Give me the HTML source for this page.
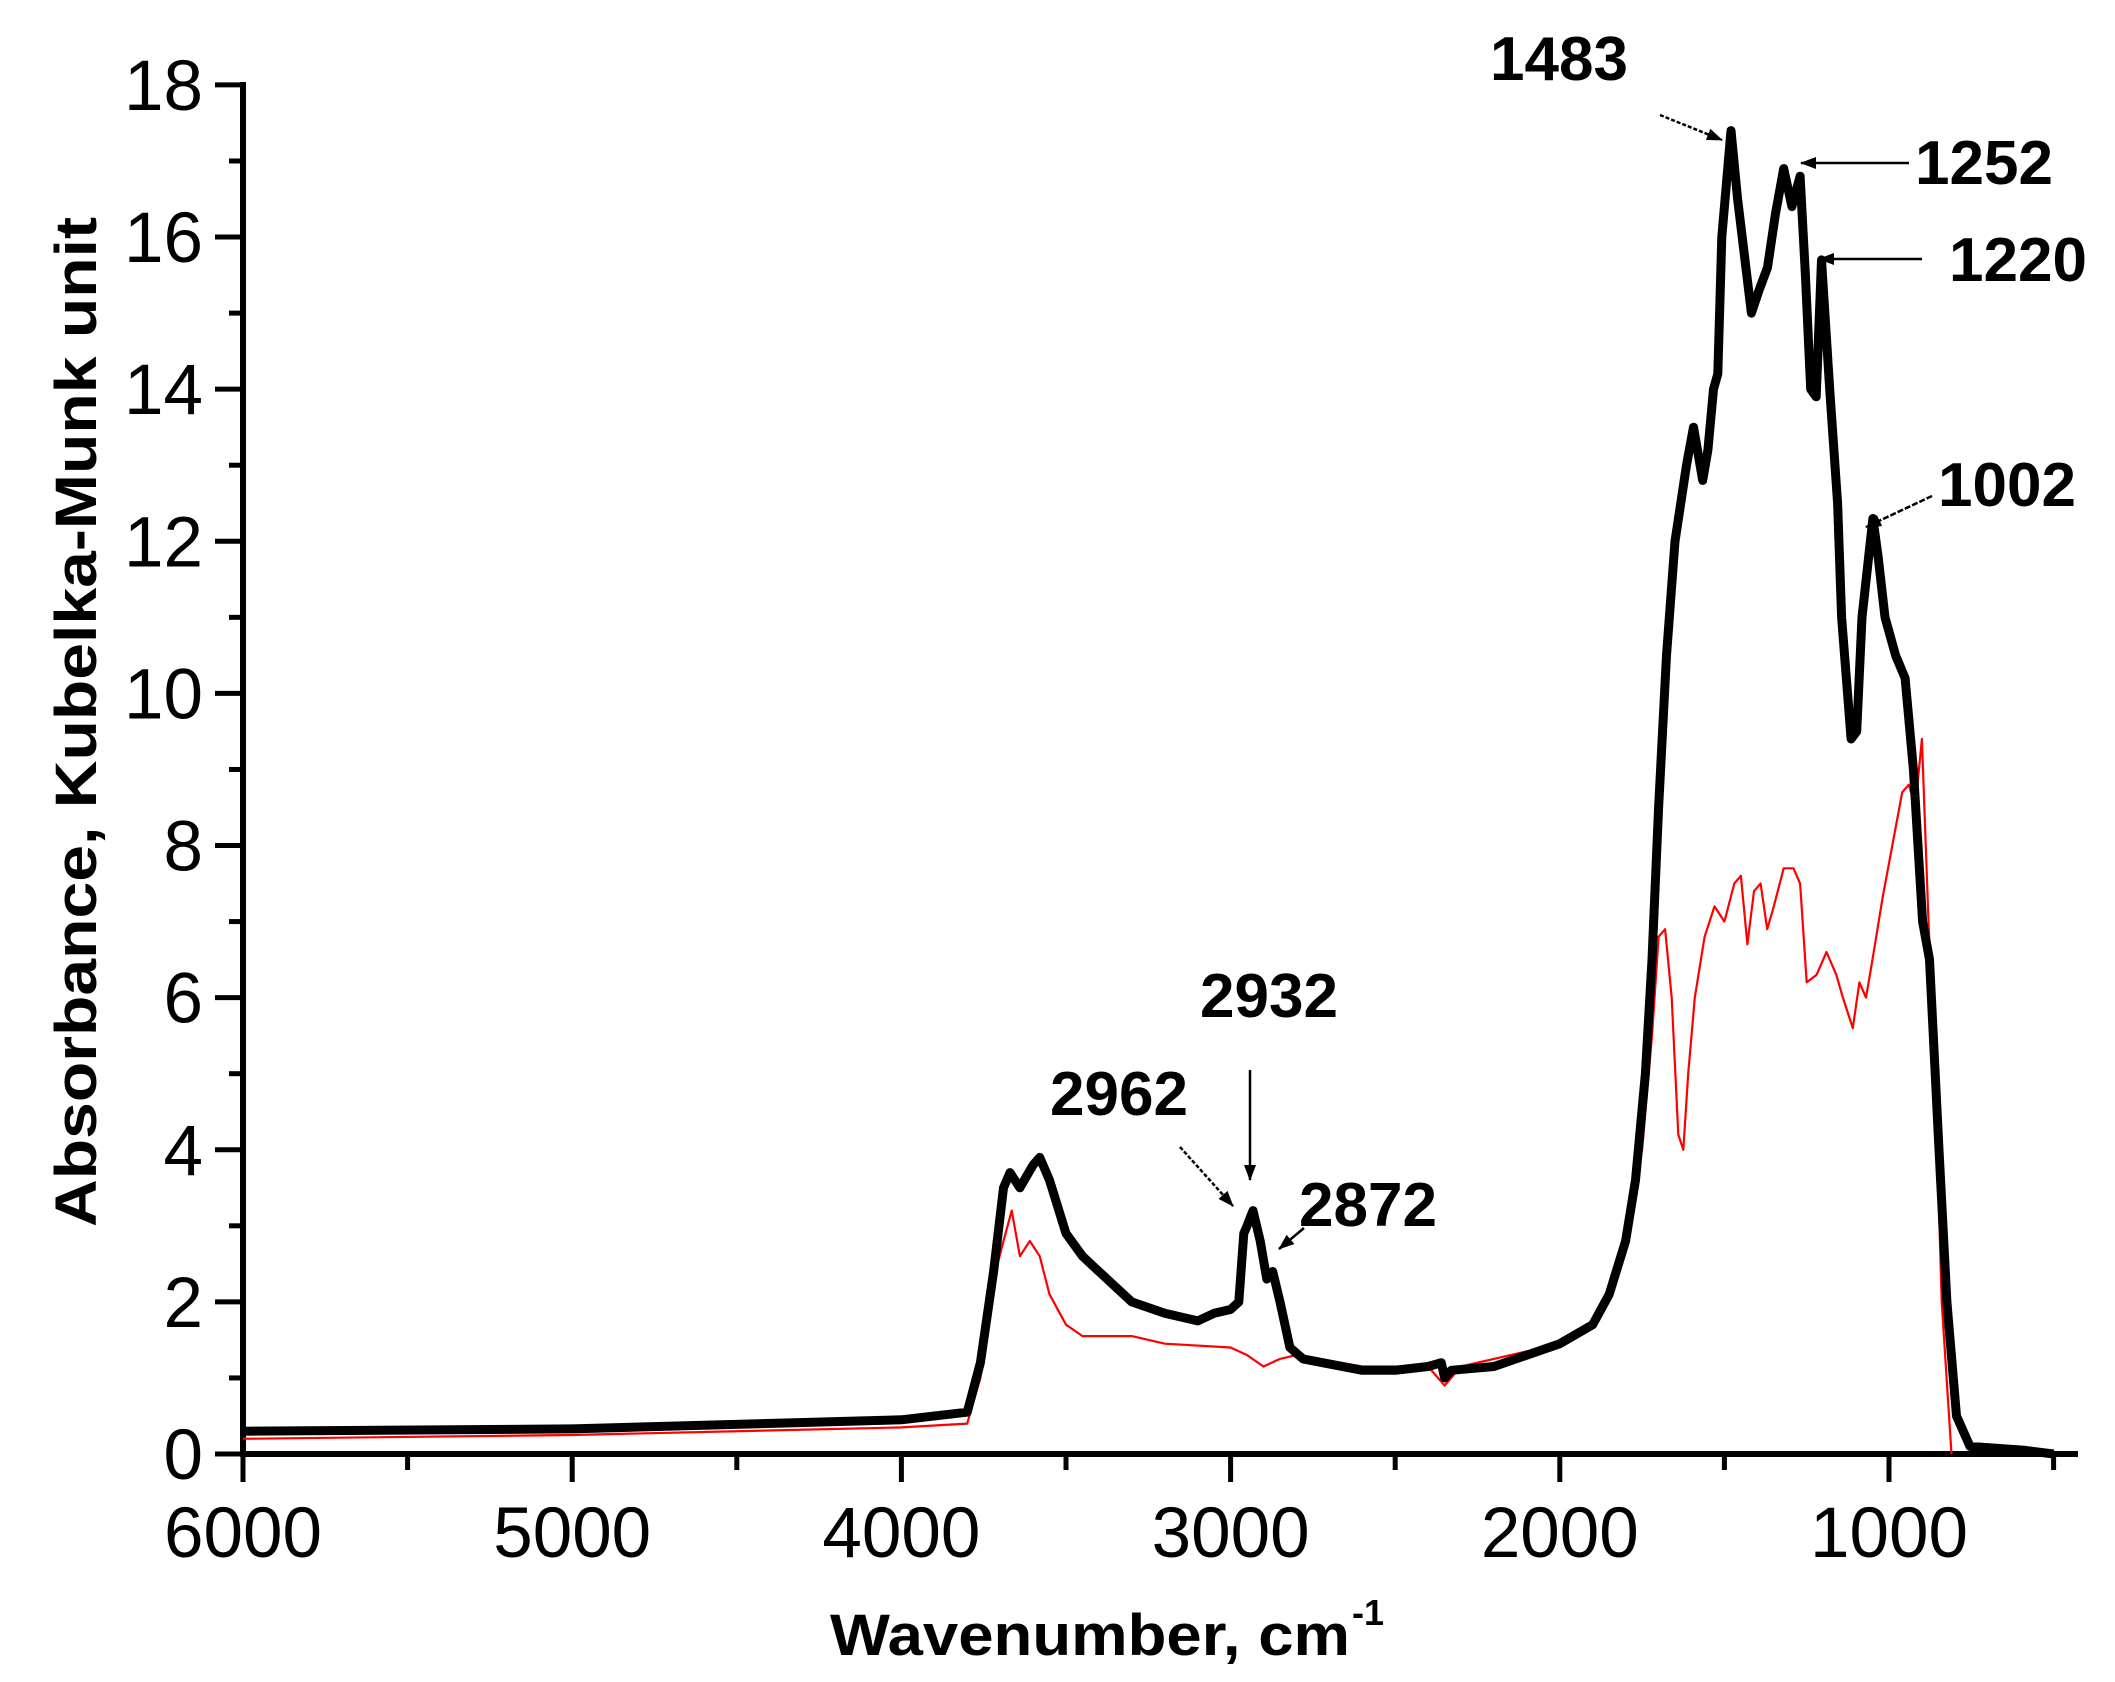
<!DOCTYPE html>
<html><head><meta charset="utf-8"><style>
html,body{margin:0;padding:0;background:#fff;width:2115px;height:1682px;overflow:hidden}
svg text{font-family:"Liberation Sans",Arial,sans-serif}
</style></head><body>
<svg id="s" width="2115" height="1682" viewBox="0 0 2115 1682" xmlns="http://www.w3.org/2000/svg">
<g id="axes" stroke="#000" stroke-width="6" fill="none">
<line x1="243" y1="82" x2="243" y2="1457"/>
<line x1="240" y1="1454" x2="2078" y2="1454"/>
</g>
<g id="ticks" stroke="#000" stroke-width="5"></g>
<g id="lbl" font-size="71" fill="#000"></g>
<path id="red" fill="none" stroke="#ff0000" stroke-width="2.2" stroke-linejoin="round"/>
<path id="blk" fill="none" stroke="#000" stroke-width="9" stroke-linejoin="round"/>
<g font-weight="bold" font-size="62" fill="#000">
<text x="1490" y="80">1483</text>
<text x="1915" y="184">1252</text>
<text x="1949" y="281">1220</text>
<text x="1938" y="506">1002</text>
<text x="1200" y="1017">2932</text>
<text x="1050" y="1115">2962</text>
<text x="1299" y="1226">2872</text>
</g>
<defs>
<marker id="ah2" markerWidth="16" markerHeight="12" refX="15" refY="6" orient="auto" markerUnits="userSpaceOnUse"><path d="M0,0L16,6L0,12z" fill="#000"/></marker></defs>
<g stroke="#000" stroke-width="2.5" fill="none">
<line x1="1660" y1="115" x2="1722" y2="140" stroke-dasharray="4,2" marker-end="url(#ah2)"/>
<line x1="1909" y1="163" x2="1801" y2="163" marker-end="url(#ah2)"/>
<line x1="1922" y1="259" x2="1819" y2="259" marker-end="url(#ah2)"/>
<line x1="1932" y1="496" x2="1866" y2="527" stroke-dasharray="6,2" marker-end="url(#ah2)"/>
<line x1="1250" y1="1070" x2="1250" y2="1180" marker-end="url(#ah2)"/>
<line x1="1180" y1="1147" x2="1233" y2="1206" stroke-dasharray="4,2" marker-end="url(#ah2)"/>
<line x1="1304" y1="1228" x2="1279" y2="1249" marker-end="url(#ah2)"/>
</g>
<text transform="translate(96,722) rotate(-90)" text-anchor="middle" font-weight="bold" font-size="58" textLength="1010" lengthAdjust="spacingAndGlyphs">Absorbance, Kubelka-Munk unit</text>
<text x="830" y="1655" font-weight="bold" font-size="58" textLength="520" lengthAdjust="spacingAndGlyphs">Wavenumber, cm</text>
<text x="1352" y="1625" font-weight="bold" font-size="36">-1</text>
</svg>
<script>
var X=function(w){return 243+(6000-w)*0.3292}, Y=function(v){return 1454-76.06*v};
var ns="http://www.w3.org/2000/svg";
var t=document.getElementById('ticks'), l=document.getElementById('lbl');
function ln(a,b,c,d){var e=document.createElementNS(ns,'line');e.setAttribute('x1',a);e.setAttribute('y1',b);e.setAttribute('x2',c);e.setAttribute('y2',d);t.appendChild(e);}
function tx(x,y,s,anc){var e=document.createElementNS(ns,'text');e.setAttribute('x',x);e.setAttribute('y',y);e.setAttribute('text-anchor',anc);e.textContent=s;l.appendChild(e);}
for(var w=6000;w>=500;w-=500){var x=X(w);var maj=w%1000==0;ln(x,1454,x,maj?1482:1470);if(maj)tx(x,1557,String(w),'middle');}
for(var v=0;v<=18;v++){var y=Y(v);var maj=v%2==0;ln(maj?215:229,y,243,y);if(maj)tx(203,y+25,String(v),'end');}
var B=[[6000,.3],[5000,.33],[4000,.45],[3800,.55],[3760,1.2],[3720,2.4],[3690,3.5],[3670,3.7],[3640,3.5],[3600,3.8],[3580,3.9],[3550,3.6],[3500,2.9],[3450,2.6],[3400,2.4],[3300,2],[3200,1.85],[3100,1.75],[3050,1.85],[3000,1.9],[2975,2],[2960,2.9],[2950,3],[2932,3.2],[2910,2.8],[2890,2.3],[2872,2.4],[2850,2],[2820,1.4],[2780,1.25],[2600,1.1],[2500,1.1],[2400,1.15],[2360,1.2],[2350,1],[2330,1.1],[2200,1.15],[2100,1.3],[2000,1.45],[1900,1.7],[1850,2.1],[1800,2.8],[1770,3.6],[1740,5],[1720,6.5],[1700,8.5],[1676,10.5],[1650,12],[1615,13],[1594,13.5],[1566,12.8],[1550,13.2],[1533,14],[1520,14.2],[1508,16],[1480,17.4],[1460,16.5],[1418,15],[1395,15.3],[1369,15.6],[1345,16.3],[1320,16.9],[1295,16.4],[1270,16.8],[1254,15.5],[1238,14],[1221,13.9],[1205,15.7],[1180,14],[1156,12.5],[1144,11],[1115,9.4],[1098,9.5],[1082,11],[1049,12.3],[1033,11.8],[1012,11],[980,10.5],[951,10.2],[926,9],[898,7],[877,6.5],[848,4],[824,2],[795,.5],[754,.1],[590,.05],[500,0]];
var R=[[6000,.2],[5000,.25],[4000,.35],[3800,.4],[3760,1],[3720,2.3],[3690,2.8],[3665,3.2],[3640,2.6],[3610,2.8],[3580,2.6],[3550,2.1],[3500,1.7],[3450,1.55],[3300,1.55],[3200,1.45],[3000,1.4],[2950,1.3],[2900,1.15],[2850,1.25],[2800,1.3],[2600,1.15],[2400,1.15],[2350,.9],[2300,1.15],[2000,1.45],[1900,1.7],[1800,2.7],[1750,4],[1720,5.5],[1700,6.8],[1680,6.9],[1660,6],[1640,4.2],[1625,4],[1610,5],[1590,6],[1560,6.8],[1530,7.2],[1500,7],[1470,7.5],[1450,7.6],[1430,6.7],[1410,7.4],[1390,7.5],[1370,6.9],[1350,7.2],[1320,7.7],[1290,7.7],[1270,7.5],[1250,6.2],[1220,6.3],[1190,6.6],[1160,6.3],[1140,6],[1110,5.6],[1090,6.2],[1070,6],[1050,6.5],[1020,7.3],[990,8],[960,8.7],[940,8.8],[920,8.5],[900,9.4],[880,7],[860,5],[840,2],[810,0]];
function path(a){return a.map(function(p,i){return(i?'L':'M')+X(p[0]).toFixed(1)+','+Y(p[1]).toFixed(1)}).join('');}
document.getElementById('blk').setAttribute('d',path(B));
document.getElementById('red').setAttribute('d',path(R));
</script>
</body></html>
